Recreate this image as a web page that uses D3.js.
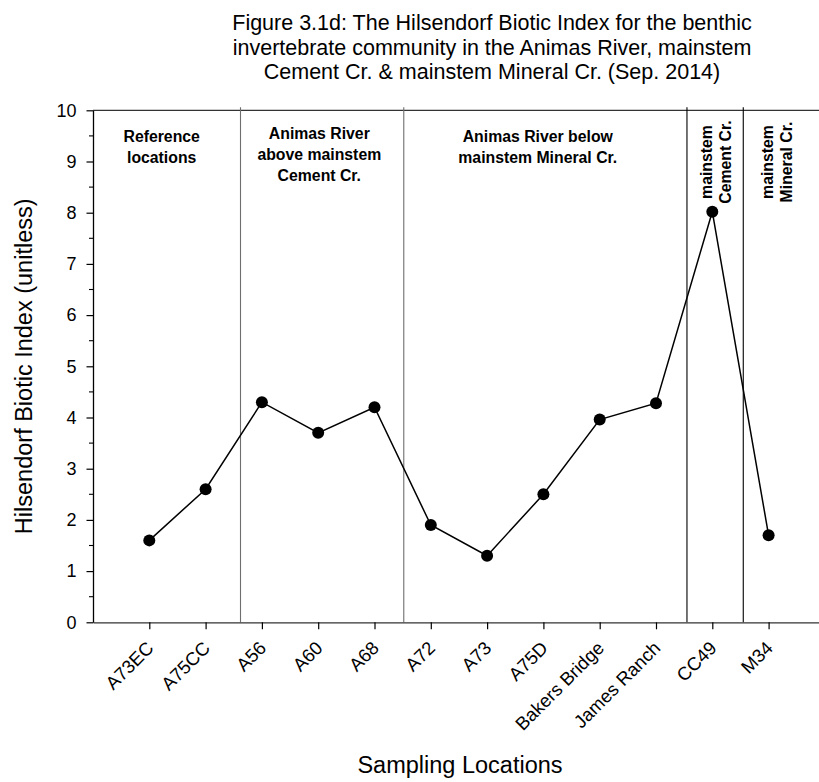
<!DOCTYPE html>
<html>
<head>
<meta charset="utf-8">
<script src="https://cdn.jsdelivr.net/npm/d3@7"></script>
<style>
  body { margin: 0; background: #fff; }
  svg { display: block; font-family: "Liberation Sans", Arial, sans-serif; }
</style>
</head>
<body>
<svg id="chart" width="819" height="782"></svg>
<script>
// Sampling sites and their Hilsendorf Biotic Index values
const sites = ["A73EC", "A75CC", "A56", "A60", "A68", "A72", "A73", "A75D",
               "Bakers Bridge", "James Ranch", "CC49", "M34"];
const hbi = [1.6, 2.6, 4.3, 3.7, 4.2, 1.9, 1.3, 2.5, 3.96, 4.28, 8.02, 1.7];

// Group dividers, in site-index units
const dividerPos = [1.62, 4.52, 9.55, 10.55];
const dividerColor = ["#6e6e6e", "#6e6e6e", "#000", "#000"];

// Horizontal group headings
const groupLabels = [
  { at: 0.22, lines: ["Reference", "locations"] },
  { at: 3.02, lines: ["Animas River", "above mainstem", "Cement Cr."] },
  { at: 6.9, lines: ["Animas River below", "mainstem Mineral Cr."] }
];
const groupLabelTop = [142, 138.5, 142];
// Vertical group headings
const groupLabelsVertical = [
  { at: 10.0, lines: ["mainstem", "Cement Cr."] },
  { at: 11.08, lines: ["mainstem", "Mineral Cr."] }
];

const yTicks = [0, 1, 2, 3, 4, 5, 6, 7, 8, 9, 10];
const yMinorTicks = [0.5, 1.5, 2.5, 3.5, 4.5, 5.5, 6.5, 7.5, 8.5, 9.5];

const titleLines = [
  "Figure 3.1d: The Hilsendorf Biotic Index for the benthic",
  "invertebrate community in the Animas River, mainstem",
  "Cement Cr. & mainstem Mineral Cr. (Sep. 2014)"
];

const svg = d3.select("#chart");
const plotLeft = 93, plotTop = 110.3, plotBottom = 622.3;

const x = d3.scaleLinear().domain([-1, 12]).range([plotLeft, plotLeft + 56.3 * 13]);
const y = d3.scaleLinear().domain([0, 10]).range([plotBottom, plotTop]);

// Title
svg.append("text")
  .attr("x", 492).attr("y", 30)
  .attr("text-anchor", "middle")
  .attr("font-size", 21.5)
  .selectAll("tspan").data(titleLines).join("tspan")
  .attr("x", 492)
  .attr("dy", (d, i) => i === 0 ? 0 : 24.5)
  .text(d => d);

// Top frame line
svg.append("line")
  .attr("x1", plotLeft).attr("x2", 819)
  .attr("y1", plotTop).attr("y2", plotTop)
  .attr("stroke", "#333").attr("stroke-width", 1.2);

// Group dividers
svg.append("g").selectAll("line").data(dividerPos).join("line")
  .attr("x1", d => x(d)).attr("x2", d => x(d))
  .attr("y1", plotTop - 3).attr("y2", plotBottom)
  .attr("stroke", (d, i) => dividerColor[i])
  .attr("stroke-width", 1.1);

// X axis
const xAxis = svg.append("g")
  .attr("transform", `translate(0,${plotBottom})`)
  .call(d3.axisBottom(x)
    .tickValues(d3.range(sites.length))
    .tickFormat(i => sites[i])
    .tickSize(7).tickSizeOuter(0));
xAxis.select(".domain").attr("stroke", "#333").attr("stroke-width", 1.3);
xAxis.selectAll(".tick line").attr("stroke", "#000").attr("stroke-width", 1.2);
xAxis.selectAll(".tick text")
  .attr("font-size", 18.5)
  .attr("font-family", "Liberation Sans, Arial, sans-serif")
  .attr("fill", "#000")
  .attr("text-anchor", "end")
  .attr("dy", 0)
  .attr("transform", "translate(5,27) rotate(-45)")
  .attr("y", 0).attr("x", 0);

// Y axis
const yAxis = svg.append("g")
  .attr("transform", `translate(${plotLeft},0)`)
  .call(d3.axisLeft(y).tickValues(yTicks).tickFormat(d3.format("d"))
    .tickSize(6.5).tickSizeOuter(0).tickPadding(10));
yAxis.select(".domain").attr("stroke", "#000").attr("stroke-width", 1.3);
yAxis.selectAll(".tick line").attr("stroke", "#000").attr("stroke-width", 1.2);
yAxis.selectAll(".tick text")
  .attr("font-size", 18)
  .attr("font-family", "Liberation Sans, Arial, sans-serif")
  .attr("fill", "#000");
svg.append("g").selectAll("line").data(yMinorTicks).join("line")
  .attr("x1", plotLeft - 4).attr("x2", plotLeft)
  .attr("y1", d => y(d)).attr("y2", d => y(d))
  .attr("stroke", "#000").attr("stroke-width", 1.1);

// Axis titles
svg.append("text")
  .attr("transform", `translate(24,${(plotTop + plotBottom) / 2}) rotate(-90)`)
  .attr("text-anchor", "middle")
  .attr("dy", "0.35em")
  .attr("font-size", 23.5)
  .text("Hilsendorf Biotic Index (unitless)");
svg.append("text")
  .attr("x", 460).attr("y", 773)
  .attr("text-anchor", "middle")
  .attr("font-size", 23.5)
  .text("Sampling Locations");

// Group headings
groupLabels.forEach((g, k) => {
  svg.append("text")
    .attr("text-anchor", "middle")
    .attr("font-size", 15.8)
    .attr("font-weight", "bold")
    .selectAll("tspan").data(g.lines).join("tspan")
    .attr("x", x(g.at))
    .attr("y", (d, i) => groupLabelTop[k] + i * 21)
    .text(d => d);
});
groupLabelsVertical.forEach(g => {
  g.lines.forEach((line, i) => {
    svg.append("text")
      .attr("transform", `translate(${x(g.at) + i * 19},162) rotate(-90)`)
      .attr("text-anchor", "middle")
      .attr("font-size", 15.8)
      .attr("font-weight", "bold")
      .text(line);
  });
});

// Series line and markers
svg.append("path")
  .datum(hbi)
  .attr("fill", "none")
  .attr("stroke", "#000")
  .attr("stroke-width", 1.5)
  .attr("d", d3.line().x((d, i) => x(i)).y(d => y(d)));
svg.append("g").selectAll("circle").data(hbi).join("circle")
  .attr("cx", (d, i) => x(i))
  .attr("cy", d => y(d))
  .attr("r", 6)
  .attr("fill", "#000");
</script>
</body>
</html>
